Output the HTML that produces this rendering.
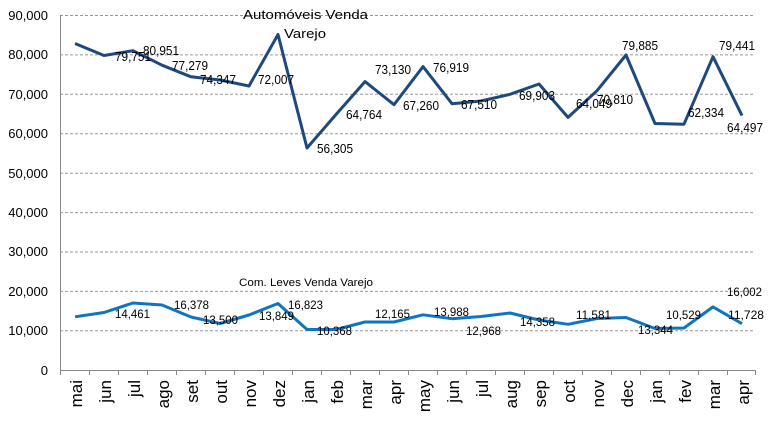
<!DOCTYPE html>
<html><head><meta charset="utf-8"><style>body{margin:0;background:#fff}svg{display:block}</style></head><body>
<svg width="768" height="423" xmlns="http://www.w3.org/2000/svg" font-family="Liberation Sans, sans-serif">
<g stroke="#999" stroke-dasharray="3,2" stroke-width="1">
<line x1="60" x2="755" y1="15.5" y2="15.5"/><line x1="60" x2="755" y1="54.9" y2="54.9"/><line x1="60" x2="755" y1="94.3" y2="94.3"/><line x1="60" x2="755" y1="133.7" y2="133.7"/><line x1="60" x2="755" y1="173.2" y2="173.2"/><line x1="60" x2="755" y1="212.6" y2="212.6"/><line x1="60" x2="755" y1="252" y2="252"/><line x1="60" x2="755" y1="291.4" y2="291.4"/><line x1="60" x2="755" y1="330.8" y2="330.8"/>
</g>
<g stroke="#888" stroke-width="1"><line x1="60.5" y1="15" x2="60.5" y2="374"/><line x1="60" y1="370.5" x2="756" y2="370.5"/>
<path d="M60.5 370v5M89.5 370v5M118.5 370v5M147.5 370v5M176.5 370v5M205.5 370v5M234.5 370v5M263.5 370v5M292.5 370v5M321.5 370v5M350.5 370v5M379.5 370v5M408.5 370v5M437.5 370v5M466.5 370v5M495.5 370v5M524.5 370v5M553.5 370v5M582.5 370v5M611.5 370v5M640.5 370v5M669.5 370v5M698.5 370v5M727.5 370v5M755.5 370v5"/></g>
<g font-size="13" text-anchor="end" fill="#000">
<text x="48" y="20">90,000</text><text x="48" y="59">80,000</text><text x="48" y="99">70,000</text><text x="48" y="138">60,000</text><text x="48" y="178">50,000</text><text x="48" y="217">40,000</text><text x="48" y="256">30,000</text><text x="48" y="296">20,000</text><text x="48" y="335">10,000</text><text x="48" y="375">0</text>
</g>
<polyline fill="none" stroke="#1F497D" stroke-width="3" stroke-linejoin="round" points="75,43.5 104,55.5 133,50.7 162,65.2 191,76.8 220,80 249,86 278,34.5 307,148 336,114.5 365,81.6 394,104.7 423,66.6 452,103.7 481,101 510,94.3 539,84 568,117.4 597,90.7 626,55 655,123.5 684,124.2 713,56.7 742,115.6"/>
<polyline fill="none" stroke="#0F75C1" stroke-width="3" stroke-linejoin="round" points="75,316.8 104,312.5 133,303 162,305 191,317 220,323.5 249,315 278,303.5 307,329.5 336,329.5 365,322 394,322 423,314.8 452,318.7 481,316.5 510,313 539,320 568,324.3 597,318.5 626,317.5 655,328.5 684,328 713,306.9 742,323.7"/>
<g font-size="13" fill="#000">
<text x="243" y="19" textLength="125" lengthAdjust="spacingAndGlyphs">Automóveis Venda</text><text x="284" y="38" textLength="42" lengthAdjust="spacingAndGlyphs">Varejo</text>
</g>
<g font-size="13" fill="#000" textLength="36">
<text x="115" y="61" textLength="36" lengthAdjust="spacingAndGlyphs">79,751</text><text x="143" y="55" textLength="36" lengthAdjust="spacingAndGlyphs">80,951</text><text x="172" y="70" textLength="36" lengthAdjust="spacingAndGlyphs">77,279</text><text x="200" y="84" textLength="36" lengthAdjust="spacingAndGlyphs">74,347</text><text x="258" y="84" textLength="36" lengthAdjust="spacingAndGlyphs">72,007</text><text x="317" y="153" textLength="36" lengthAdjust="spacingAndGlyphs">56,305</text><text x="346" y="119" textLength="36" lengthAdjust="spacingAndGlyphs">64,764</text><text x="375" y="74" textLength="36" lengthAdjust="spacingAndGlyphs">73,130</text><text x="433" y="72" textLength="36" lengthAdjust="spacingAndGlyphs">76,919</text><text x="403" y="110" textLength="36" lengthAdjust="spacingAndGlyphs">67,260</text><text x="461" y="109" textLength="36" lengthAdjust="spacingAndGlyphs">67,510</text><text x="519" y="100" textLength="36" lengthAdjust="spacingAndGlyphs">69,903</text><text x="576" y="108" textLength="36" lengthAdjust="spacingAndGlyphs">64,049</text><text x="597" y="104" textLength="36" lengthAdjust="spacingAndGlyphs">70,810</text><text x="622" y="50" textLength="36" lengthAdjust="spacingAndGlyphs">79,885</text><text x="688" y="117" textLength="36" lengthAdjust="spacingAndGlyphs">62,334</text><text x="719" y="50" textLength="36" lengthAdjust="spacingAndGlyphs">79,441</text><text x="727" y="132" textLength="36" lengthAdjust="spacingAndGlyphs">64,497</text>
</g>
<g font-size="12" fill="#000">
<text x="239" y="286" font-size="11" textLength="134" lengthAdjust="spacingAndGlyphs">Com. Leves Venda Varejo</text>
<text x="115" y="318" textLength="35" lengthAdjust="spacingAndGlyphs">14,461</text>
<text x="174" y="309" textLength="35" lengthAdjust="spacingAndGlyphs">16,378</text>
<text x="203" y="324" textLength="35" lengthAdjust="spacingAndGlyphs">13,500</text>
<text x="259" y="320" textLength="35" lengthAdjust="spacingAndGlyphs">13,849</text>
<text x="288" y="309" textLength="35" lengthAdjust="spacingAndGlyphs">16,823</text>
<text x="317" y="335" textLength="35" lengthAdjust="spacingAndGlyphs">10,368</text>
<text x="375" y="318" textLength="35" lengthAdjust="spacingAndGlyphs">12,165</text>
<text x="434" y="316" textLength="35" lengthAdjust="spacingAndGlyphs">13,988</text>
<text x="466" y="335" textLength="35" lengthAdjust="spacingAndGlyphs">12,968</text>
<text x="520" y="326" textLength="35" lengthAdjust="spacingAndGlyphs">14,358</text>
<text x="576" y="319" textLength="35" lengthAdjust="spacingAndGlyphs">11,581</text>
<text x="638" y="334" textLength="35" lengthAdjust="spacingAndGlyphs">13,344</text>
<text x="666" y="319" textLength="35" lengthAdjust="spacingAndGlyphs">10,529</text>
<text x="727" y="296" textLength="35" lengthAdjust="spacingAndGlyphs">16,002</text>
<text x="728" y="319" textLength="36" lengthAdjust="spacingAndGlyphs">11,728</text>
</g>
<g font-size="17" text-anchor="end" fill="#000">
<text transform="translate(82,380) rotate(-90)">mai</text><text transform="translate(111,380) rotate(-90)">jun</text><text transform="translate(140,380) rotate(-90)">jul</text><text transform="translate(169,380) rotate(-90)">ago</text><text transform="translate(198,380) rotate(-90)">set</text><text transform="translate(227,380) rotate(-90)">out</text><text transform="translate(256,380) rotate(-90)">nov</text><text transform="translate(285,380) rotate(-90)">dez</text><text transform="translate(314,380) rotate(-90)">jan</text><text transform="translate(343,380) rotate(-90)">feb</text><text transform="translate(372,380) rotate(-90)">mar</text><text transform="translate(401,380) rotate(-90)">apr</text><text transform="translate(430,380) rotate(-90)">may</text><text transform="translate(459,380) rotate(-90)">jun</text><text transform="translate(488,380) rotate(-90)">jul</text><text transform="translate(517,380) rotate(-90)">aug</text><text transform="translate(546,380) rotate(-90)">sep</text><text transform="translate(575,380) rotate(-90)">oct</text><text transform="translate(604,380) rotate(-90)">nov</text><text transform="translate(633,380) rotate(-90)">dec</text><text transform="translate(662,380) rotate(-90)">jan</text><text transform="translate(691,380) rotate(-90)">fev</text><text transform="translate(720,380) rotate(-90)">mar</text><text transform="translate(749,380) rotate(-90)">apr</text>
</g>
</svg>
</body></html>
